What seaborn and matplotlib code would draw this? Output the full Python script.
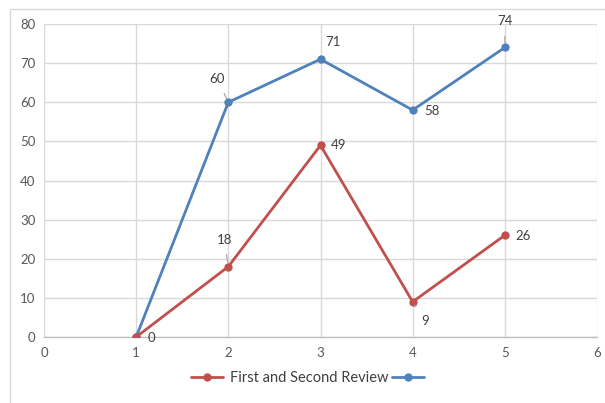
import matplotlib
matplotlib.use("Agg")
import matplotlib.pyplot as plt
from matplotlib.patches import Rectangle
import pandas as pd
import seaborn as sns

# Review rounds and scores for each series
rounds = [1, 2, 3, 4, 5]
first_second_review = [0, 18, 49, 9, 26]
second_series = [0, 60, 71, 58, 74]
series_names = ["First and Second Review", ""]

x_ticks = [0, 1, 2, 3, 4, 5, 6]
y_ticks = [0, 10, 20, 30, 40, 50, 60, 70, 80]

RED = "#C0504D"
BLUE = "#4F81BD"
GRID = "#D9D9D9"
TXT = "#595959"

sns.set_theme(style="white")
plt.rcParams["font.family"] = ["Lato", "DejaVu Sans"]

fig = plt.figure(figsize=(6.05, 4.03), dpi=100)
ax = fig.add_axes([44 / 605, 1 - 337 / 403, (597 - 44) / 605, (337 - 24) / 403])

df_red = pd.DataFrame({"round": rounds, "score": first_second_review})
df_blue = pd.DataFrame({"round": rounds, "score": second_series})

sns.lineplot(data=df_blue, x="round", y="score", ax=ax, color=BLUE, lw=2,
             marker="o", markersize=6, markeredgewidth=0, zorder=3)
sns.lineplot(data=df_red, x="round", y="score", ax=ax, color=RED, lw=2,
             marker="o", markersize=6, markeredgewidth=0, zorder=4)

ax.set_xlim(0, 6)
ax.set_ylim(0, 80)
ax.set_xticks(x_ticks)
ax.set_yticks(y_ticks)
ax.set_xlabel("")
ax.set_ylabel("")
ax.grid(True, color=GRID, lw=1)
ax.set_axisbelow(True)
for side in ["top", "right", "left"]:
    ax.spines[side].set_visible(False)
ax.spines["bottom"].set_color("#BFBFBF")
ax.spines["bottom"].set_linewidth(1)
ax.tick_params(axis="both", length=0, labelsize=9.5, labelcolor=TXT)
ax.tick_params(axis="x", pad=7)
ax.tick_params(axis="y", pad=6)

# Data labels placed around each marker, some with a short leader line
def label(xv, yv, dx, dy, leader=False):
    kw = dict(textcoords="offset pixels", xytext=(dx, dy), ha="center",
              va="center", fontsize=9.5, color="#404040", zorder=5)
    if leader:
        kw["arrowprops"] = dict(arrowstyle="-", color="#A6A6A6", lw=0.9,
                                shrinkA=4, shrinkB=3)
    ax.annotate(f"{yv}", xy=(xv, yv), **kw)

red_offsets = [(15, -1, False), (-4, 27, True), (18, 0, False), (12, -19, True), (18, -1, False)]
blue_offsets = [None, (-11, 23, True), (12, 17, False), (19, -1, False), (0, 26, True)]

for xv, yv, off in zip(rounds, first_second_review, red_offsets):
    label(xv, yv, *off)
for xv, yv, off in zip(rounds, second_series, blue_offsets):
    if off is not None:
        label(xv, yv, *off)

# Legend below the plot
h_red = ax.lines[1]
h_blue = ax.lines[0]
leg = fig.legend([h_red, h_blue], series_names, loc="center",
                 bbox_to_anchor=(311 / 605, 1 - 378 / 403), ncol=2, frameon=False,
                 fontsize=10.5, handlelength=2.2, columnspacing=0.2, handletextpad=0.5,
                 labelcolor="#404040")

# Chart area frame
fig.add_artist(Rectangle((10 / 605, -0.2), 1.2, 1.2 - 9 / 403,
                         transform=fig.transFigure, fill=False,
                         edgecolor="#D9D9D9", lw=1))

fig.savefig("out.png", dpi=100)
